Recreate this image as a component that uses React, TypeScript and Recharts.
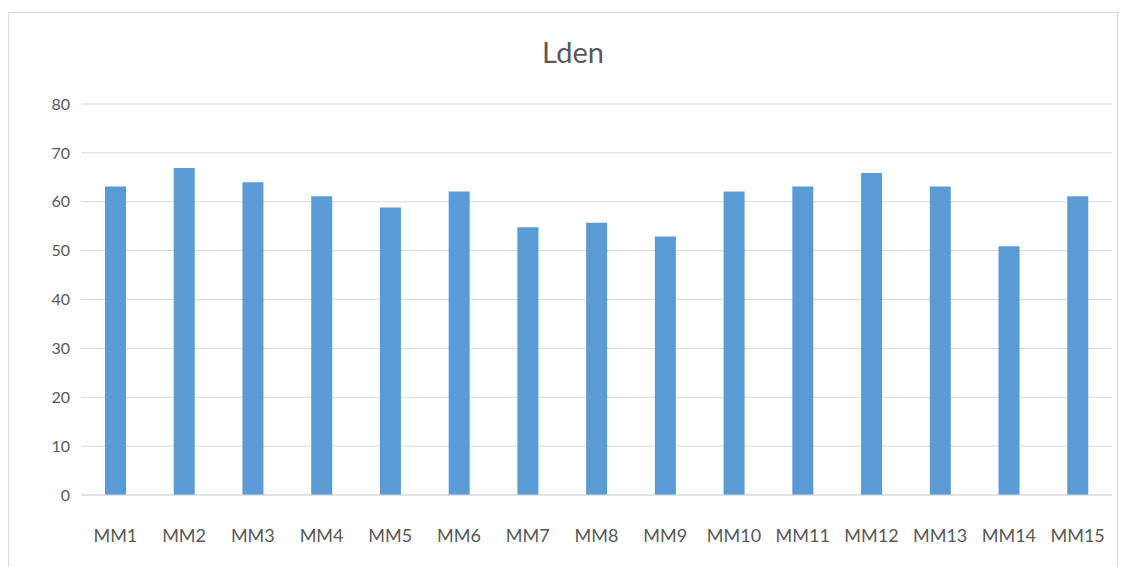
import { Bar, BarChart, CartesianGrid, XAxis, YAxis } from "recharts"

const stations = ["MM1", "MM2", "MM3", "MM4", "MM5", "MM6", "MM7", "MM8", "MM9", "MM10", "MM11", "MM12", "MM13", "MM14", "MM15"]
const ldenValues = [63.1, 66.9, 64, 61.1, 58.8, 62.1, 54.8, 55.7, 52.9, 62.1, 63.1, 65.9, 63.1, 50.9, 61.1]
const yTicks = [0, 10, 20, 30, 40, 50, 60, 70, 80]

const data = stations.map((name, i) => ({ name, value: ldenValues[i] }))

const textColor = "#595959"
const gridColor = "#D9D9D9"
const barColor = "#5B9BD5"
const font = "Lato, 'Open Sans', sans-serif"

export default function App() {
  return (
    <div style={{ position: "fixed", left: 0, top: 0, width: 1125, height: 567, background: "#fff", overflow: "hidden" }}>
      <div
        style={{
          position: "absolute",
          left: 8,
          top: 12,
          width: 1110,
          height: 570,
          border: "1.5px solid #D9D9D9",
          boxSizing: "border-box",
        }}
      />
      <div
        style={{
          position: "absolute",
          left: 0,
          width: 1146,
          top: 34,
          textAlign: "center",
          fontFamily: font,
          fontSize: 29,
          color: textColor,
        }}
      >
        Lden
      </div>
      <div style={{ position: "absolute", left: 0, top: 0 }}>
        <BarChart width={1125} height={567} data={data} margin={{ top: 104, right: 13, bottom: 32, left: 0 }} barSize={21}>
          <CartesianGrid stroke={gridColor} vertical={false} />
          <XAxis
            dataKey="name"
            height={40}
            tickLine={false}
            axisLine={{ stroke: gridColor }}
            tick={{ fill: textColor, fontSize: 18, fontFamily: font }}
            tickMargin={28}
            interval={0}
          />
          <YAxis
            width={81}
            domain={[0, 80]}
            ticks={yTicks}
            tickLine={false}
            axisLine={false}
            tick={{ fill: textColor, fontSize: 16, fontFamily: font }}
            tickMargin={5}
          />
          <Bar dataKey="value" fill={barColor} isAnimationActive={false} />
        </BarChart>
      </div>
    </div>
  )
}
